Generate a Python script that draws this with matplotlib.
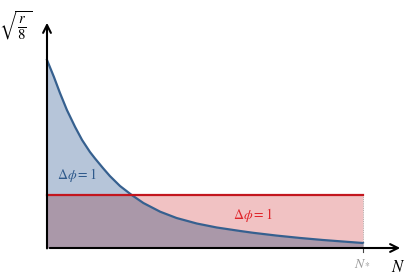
import numpy as np
import matplotlib.pyplot as plt

plt.rcParams['mathtext.fontset'] = 'stix'

# curve (N in units of N*, height in units of the red level)
n_vals = [0.0, 0.022, 0.041, 0.063, 0.089, 0.111, 0.136, 0.152, 0.177, 0.199,
          0.231, 0.268, 0.305, 0.358, 0.410, 0.474, 0.537, 0.611, 0.652, 0.727,
          0.801, 0.873, 0.948, 1.0]
curve = [3.547, 3.226, 2.925, 2.604, 2.283, 2.038, 1.811, 1.689, 1.509, 1.358,
         1.170, 1.0, 0.849, 0.685, 0.566, 0.462, 0.387, 0.321, 0.287, 0.234,
         0.189, 0.151, 0.117, 0.094]
level = 1.0
n_star = 1.0

n = np.array(n_vals)
c = np.array(curve)
lvl = np.full_like(n, level)

fig = plt.figure(figsize=(4.09, 2.78), dpi=100)
ax = fig.add_axes([0, 0, 1, 1])
ax.set_xlim(-47 / 316, 362 / 316)
ax.set_ylim(-30 / 53, 248 / 53)
ax.axis('off')

# shaded regions
ax.fill_between(n, lvl, np.maximum(c, lvl), color='#B6C5D9', lw=0)
ax.fill_between(n, np.minimum(c, lvl), lvl, color='#F1C2C3', lw=0)
ax.fill_between(n, 0, np.minimum(c, lvl), color='#AA98A9', lw=0)

ax.plot(n, c, color='#36608F', lw=1.6, solid_joinstyle='round')
ax.plot([0, n_star], [level, level], color='#C3161E', lw=1.6)
ax.plot([n_star, n_star], [0, level], color='#999999', lw=0.6, ls=':')
ax.plot([n_star, n_star], [-0.02, -0.07], color='#444444', lw=0.8)

# axes arrows
ax.annotate('', xy=(0, 228 / 53), xytext=(0, -0.06),
            arrowprops=dict(arrowstyle='->', lw=1.5, color='black', mutation_scale=14))
ax.annotate('', xy=(356 / 316, 0), xytext=(0, 0),
            arrowprops=dict(arrowstyle='->', lw=1.5, color='black', mutation_scale=14))

ax.text(30 / 316, 73 / 53, r'$\Delta\phi = 1$', color='#2F5A8C', fontsize=10,
        ha='center', va='center')
ax.text(206 / 316, 33 / 53, r'$\Delta\phi = 1$', color='#E0242A', fontsize=10,
        ha='center', va='center')
ax.text(-31 / 316, 223 / 53, r'$\sqrt{\frac{r}{8}}$', fontsize=15,
        ha='center', va='center')
ax.text(n_star, -15 / 53, r'$N_*$', color='#999999', fontsize=10,
        ha='center', va='center')
ax.text(351 / 316, -19 / 53, r'$N$', fontsize=12, ha='center', va='center')

fig.savefig('out.png', dpi=100)
